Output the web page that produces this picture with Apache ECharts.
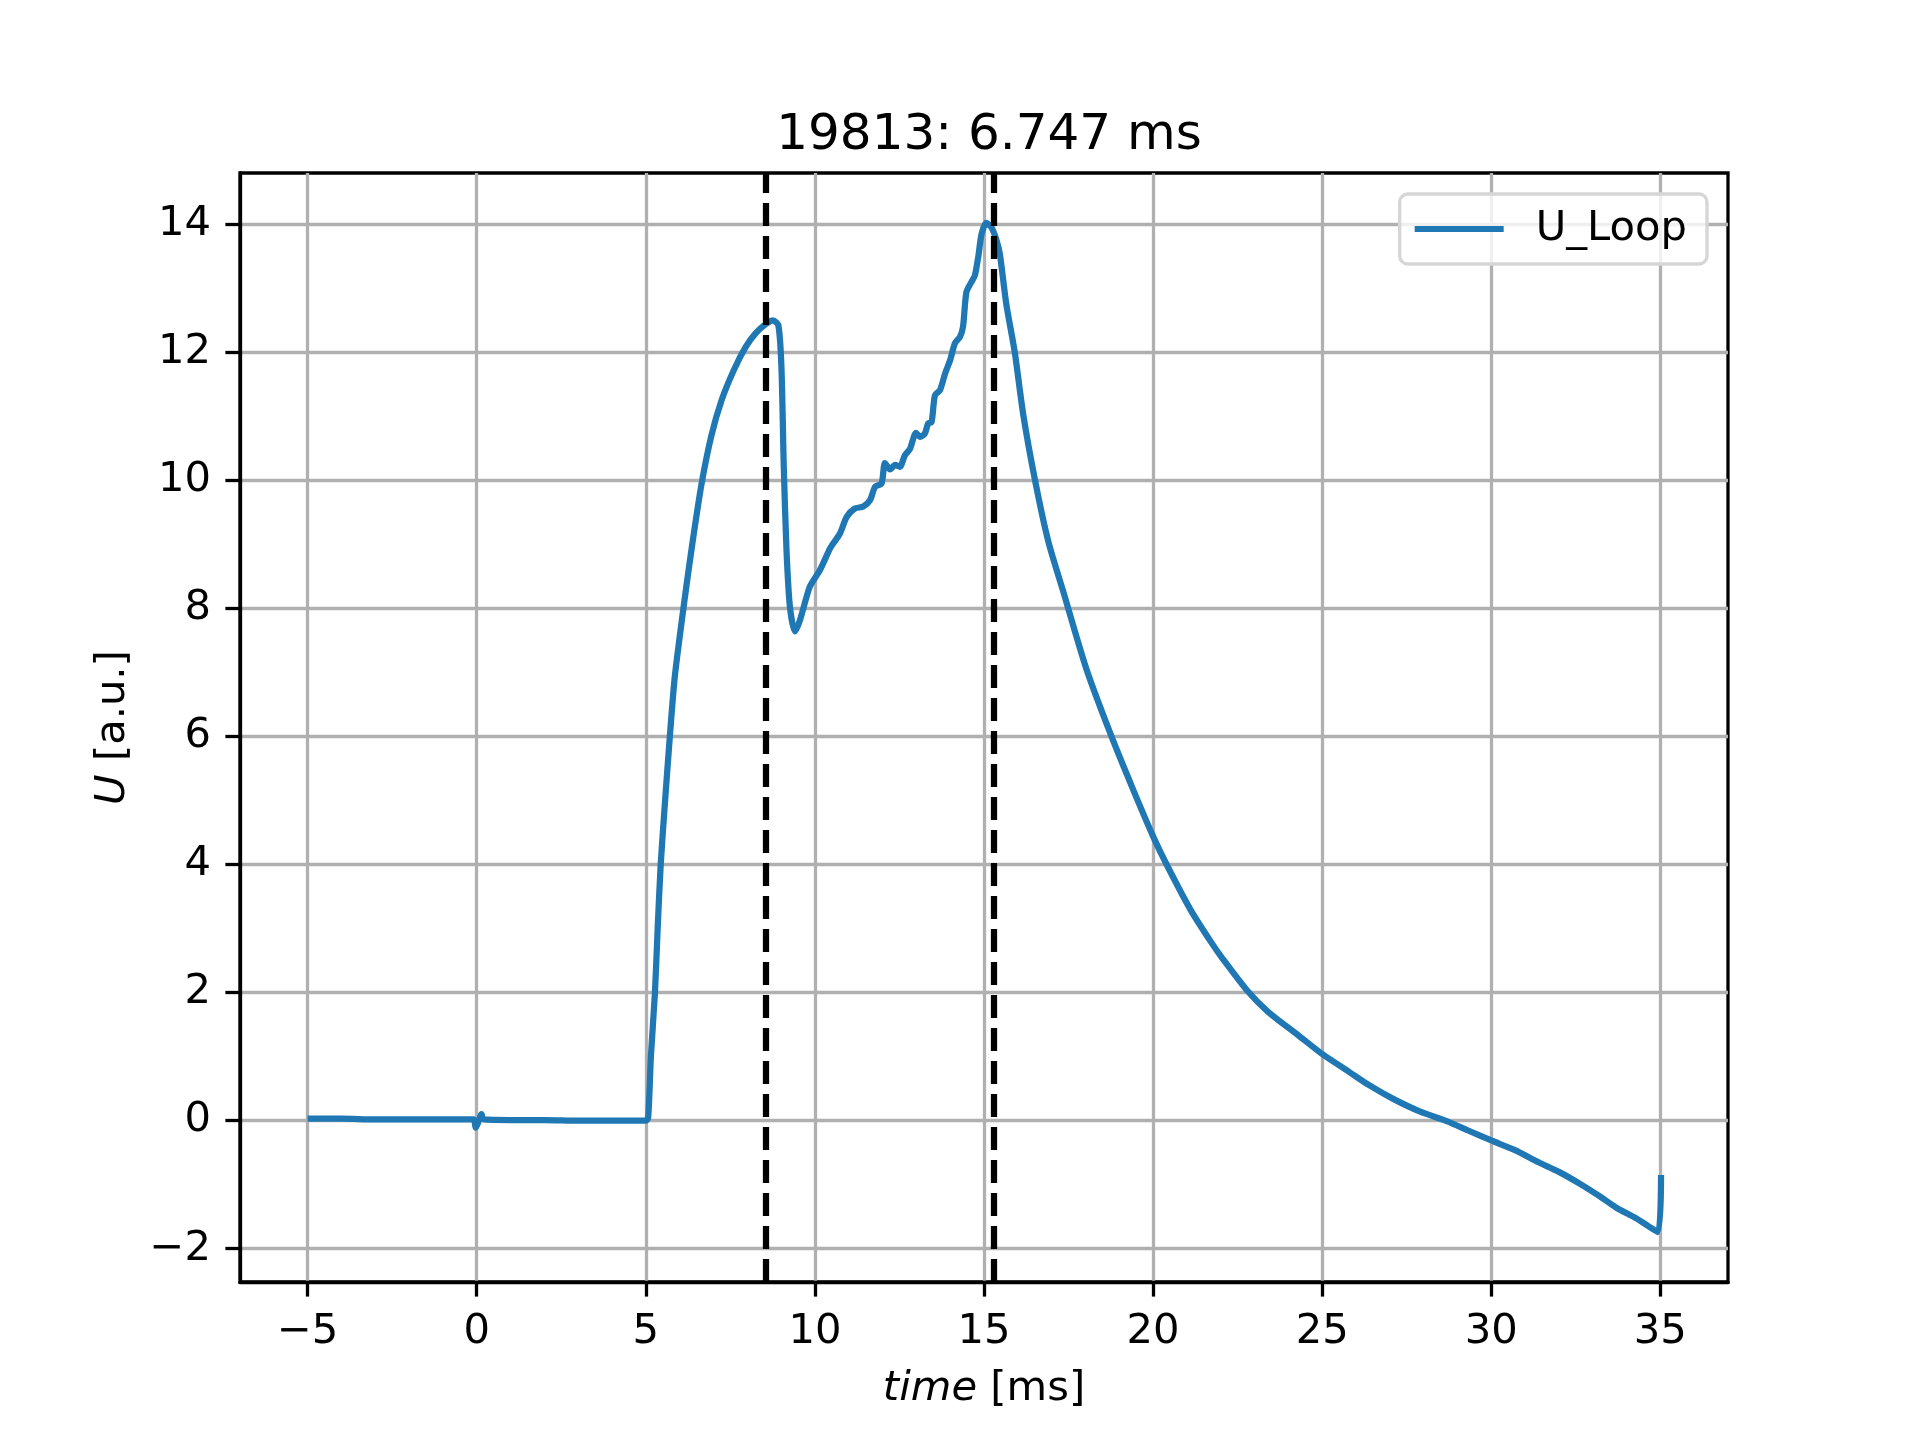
<!DOCTYPE html>
<html>
<head>
<meta charset="utf-8">
<title>19813: 6.747 ms</title>
<script src="https://cdn.jsdelivr.net/npm/echarts@6/dist/echarts.min.js"></script>
<style>
    html, body { margin: 0; padding: 0; background: #fff; }
    #chart { width: 1920px; height: 1440px; }
</style>
</head>
<body>
<div id="chart"></div>
<script>
// time axis in ms, loop voltage in a.u.
var timeMs = [
    -5.0, -4.0, -3.0, -2.0, -1.0, -0.1, -0.03, 0.05, 0.14, 0.2, 1.0, 2.0, 3.0, 4.0, 5.0,
    5.07, 5.15, 5.27, 5.35, 5.44, 5.57, 5.71, 5.85, 6.0, 6.2, 6.4, 6.65, 6.94, 7.24, 7.6, 7.95,
    8.25, 8.55, 8.76, 8.92, 9.01, 9.08, 9.16, 9.26, 9.41, 9.56, 9.85, 10.15, 10.44, 10.51,
    10.74, 10.94, 11.18, 11.43, 11.63, 11.78, 11.97, 12.07, 12.22, 12.37, 12.51, 12.66,
    12.81, 12.99, 13.11, 13.25, 13.35, 13.45, 13.55, 13.7, 13.85, 14.0, 14.14, 14.29,
    14.38, 14.48, 14.63, 14.73, 14.83, 14.93, 15.07, 15.22, 15.37, 15.47, 15.66, 15.91,
    16.16, 16.51, 16.9, 17.34, 18.03, 18.77, 19.41, 20.0, 20.4, 21.1, 21.7, 22.07,
    22.8, 23.4, 24.3, 25.0, 25.8, 26.4, 27.1, 27.9, 28.7, 29.3, 30.0, 30.7, 31.4, 32.0,
    32.6, 33.2, 33.7, 34.3, 34.93, 35.02
];
var uLoop = [
    0.03, 0.03, 0.02, 0.02, 0.02, 0.02, -0.11, -0.02, 0.1, 0.02, 0.01, 0.01, 0.0, 0.0, 0.0,
    0.05, 1.0, 2.0, 3.0, 4.0, 5.0, 6.0, 6.9, 7.55, 8.35, 9.1, 9.95, 10.7, 11.25, 11.72, 12.08,
    12.3, 12.44, 12.5, 12.42, 11.77, 10.2, 8.91, 8.03, 7.64, 7.82, 8.34, 8.6, 8.93, 8.99,
    9.17, 9.43, 9.56, 9.59, 9.69, 9.9, 9.95, 10.27, 10.17, 10.24, 10.21, 10.39,
    10.49, 10.74, 10.68, 10.73, 10.89, 10.91, 11.33, 11.41, 11.67, 11.88, 12.14, 12.24,
    12.4, 12.94, 13.1, 13.2, 13.49, 13.85, 14.02, 13.95, 13.75, 13.53, 12.75, 12.0,
    11.03, 10.0, 9.05, 8.27, 7.05, 6.0, 5.17, 4.44, 4.0, 3.3, 2.8, 2.52,
    2.02, 1.7, 1.33, 1.04, 0.76, 0.55, 0.34, 0.14, -0.01, -0.15, -0.31, -0.46, -0.65, -0.8,
    -0.98, -1.18, -1.36, -1.53, -1.74, -0.85
];
var markerTimes = [8.55, 15.29];
var xTicks = [-5, 0, 5, 10, 15, 20, 25, 30, 35];
var yTicks = [-2, 0, 2, 4, 6, 8, 10, 12, 14];

var myChart = echarts.init(document.getElementById('chart'));

function minus(v) {
    return String(v).replace('-', '\u2212');
}

var option = {
    animation: false,
    backgroundColor: '#fff',
    textStyle: { fontFamily: 'DejaVu Sans' },
    title: {
        text: '19813: 6.747 ms',
        left: 984,
        top: 106,
        textAlign: 'center',
        textStyle: { fontSize: 50, fontWeight: 'normal', color: '#000', fontFamily: 'DejaVu Sans' }
    },
    legend: {
        data: ['U_Loop'],
        right: 213,
        top: 194,
        icon: 'rect',
        itemWidth: 89,
        itemHeight: 6,
        padding: [14, 20, 14, 15],
        backgroundColor: 'rgba(255,255,255,0.8)',
        borderColor: '#d6d6d6',
        borderWidth: 3.3,
        borderRadius: 8,
        textStyle: { fontSize: 41.7, color: '#000', padding: [0, 0, 0, 27], fontFamily: 'DejaVu Sans' }
    },
    grid: {
        left: 240,
        right: 192,
        top: 173,
        bottom: 158,
        show: true,
        borderColor: '#000',
        borderWidth: 3.3,
        containLabel: false
    },
    xAxis: {
        type: 'value',
        min: -7,
        max: 37,
        name: '{i|time} [ms]',
        nameLocation: 'middle',
        nameGap: 86,
        nameTextStyle: {
            fontSize: 41.7, color: '#000', fontFamily: 'DejaVu Sans',
            rich: { i: { fontStyle: 'italic', fontSize: 41.7, fontFamily: 'DejaVu Sans' } }
        },
        axisLine: { show: true, onZero: false, lineStyle: { color: '#000', width: 3.3 } },
        axisTick: { show: true, length: 14.6, lineStyle: { color: '#000', width: 3.3 }, customValues: xTicks },
        axisLabel: { fontSize: 41.7, color: '#000', margin: 29, customValues: xTicks, formatter: minus },
        splitLine: { show: true, lineStyle: { color: '#b0b0b0', width: 3.3 } }
    },
    yAxis: {
        type: 'value',
        min: -2.52,
        max: 14.8,
        name: '{i|U} [a.u.]',
        nameLocation: 'middle',
        nameGap: 106,
        nameTextStyle: {
            fontSize: 41.7, color: '#000', fontFamily: 'DejaVu Sans',
            rich: { i: { fontStyle: 'italic', fontSize: 41.7, fontFamily: 'DejaVu Sans' } }
        },
        axisLine: { show: true, onZero: false, lineStyle: { color: '#000', width: 3.3 } },
        axisTick: { show: true, length: 14.6, lineStyle: { color: '#000', width: 3.3 }, customValues: yTicks },
        axisLabel: { fontSize: 41.7, color: '#000', margin: 29, customValues: yTicks, formatter: minus },
        splitLine: { show: true, lineStyle: { color: '#b0b0b0', width: 3.3 } }
    },
    series: [{
        name: 'U_Loop',
        type: 'line',
        symbol: 'none',
        showSymbol: false,
        smooth: 0.25,
        color: '#1f77b4',
        lineStyle: { color: '#1f77b4', width: 6.25, join: 'round', cap: 'butt' },
        data: timeMs.map(function (t, i) { return [t, uLoop[i]]; }),
        markLine: {
            silent: true,
            symbol: ['none', 'none'],
            label: { show: false },
            lineStyle: { color: '#000', width: 6.25, type: [23, 10] },
            data: markerTimes.map(function (t) { return { xAxis: t }; })
        }
    }]
};

myChart.setOption(option);
</script>
</body>
</html>
